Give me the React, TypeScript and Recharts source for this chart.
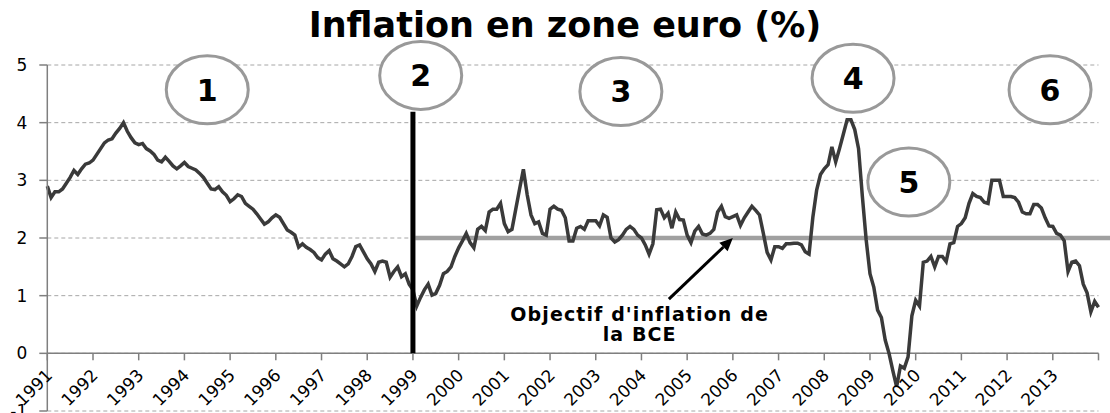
import React from "react";
import {
  ComposedChart,
  Line,
  Scatter,
  XAxis,
  YAxis,
  CartesianGrid,
  ReferenceLine,
  ReferenceDot,
} from "recharts";

// glissement annuel mensuel de l'IPCH, janvier -> décembre
const years = [
  1991, 1992, 1993, 1994, 1995, 1996, 1997, 1998, 1999, 2000, 2001, 2002,
  2003, 2004, 2005, 2006, 2007, 2008, 2009, 2010, 2011, 2012, 2013,
];
const m1991 = [2.9, 2.7, 2.8, 2.8, 2.85, 2.95, 3.05, 3.17, 3.1, 3.2, 3.28, 3.3];
const m1992 = [3.35, 3.45, 3.55, 3.65, 3.7, 3.72, 3.82, 3.9, 4.0, 3.85, 3.74, 3.65];
const m1993 = [3.62, 3.64, 3.55, 3.51, 3.45, 3.35, 3.32, 3.4, 3.33, 3.25, 3.2, 3.25];
const m1994 = [3.31, 3.24, 3.21, 3.18, 3.12, 3.05, 2.95, 2.85, 2.84, 2.89, 2.8, 2.74];
const m1995 = [2.63, 2.68, 2.75, 2.72, 2.6, 2.55, 2.5, 2.42, 2.33, 2.24, 2.28, 2.35];
const m1996 = [2.4, 2.36, 2.25, 2.14, 2.1, 2.05, 1.84, 1.9, 1.84, 1.8, 1.75, 1.66];
const m1997 = [1.62, 1.72, 1.78, 1.64, 1.6, 1.55, 1.5, 1.55, 1.68, 1.85, 1.88, 1.76];
const m1998 = [1.64, 1.55, 1.42, 1.58, 1.6, 1.58, 1.32, 1.42, 1.5, 1.33, 1.38, 1.2];
const m1999 = [1.1, 0.82, 0.97, 1.1, 1.2, 1.01, 1.04, 1.18, 1.38, 1.42, 1.5, 1.68];
const m2000 = [1.83, 1.95, 2.08, 1.92, 1.83, 2.15, 2.2, 2.13, 2.45, 2.5, 2.5, 2.6];
const m2001 = [2.25, 2.11, 2.15, 2.5, 2.85, 3.19, 2.75, 2.4, 2.25, 2.28, 2.08, 2.05];
const m2002 = [2.5, 2.55, 2.5, 2.48, 2.35, 1.95, 1.95, 2.17, 2.2, 2.15, 2.3, 2.3];
const m2003 = [2.3, 2.21, 2.4, 2.36, 2.0, 1.93, 1.97, 2.05, 2.15, 2.2, 2.15, 2.05];
const m2004 = [2.0, 1.88, 1.72, 1.9, 2.49, 2.5, 2.35, 2.43, 2.17, 2.45, 2.32, 2.31];
const m2005 = [2.05, 1.92, 2.12, 2.2, 2.07, 2.05, 2.08, 2.15, 2.45, 2.55, 2.37, 2.34];
const m2006 = [2.37, 2.4, 2.22, 2.35, 2.45, 2.55, 2.48, 2.4, 2.08, 1.75, 1.62, 1.85];
const m2007 = [1.85, 1.82, 1.9, 1.9, 1.91, 1.91, 1.88, 1.76, 1.72, 2.36, 2.83, 3.1];
const m2008 = [3.2, 3.27, 3.58, 3.32, 3.55, 3.8, 4.05, 4.05, 3.88, 3.55, 2.72, 1.97];
const m2009 = [1.38, 1.15, 0.75, 0.62, 0.23, 0.0, -0.3, -0.58, -0.22, -0.26, -0.06, 0.65];
const m2010 = [0.92, 0.82, 1.58, 1.6, 1.68, 1.5, 1.68, 1.68, 1.59, 1.9, 1.92, 2.2];
const m2011 = [2.25, 2.35, 2.6, 2.77, 2.72, 2.7, 2.62, 2.6, 3.0, 3.0, 3.0, 2.72];
const m2012 = [2.72, 2.72, 2.7, 2.62, 2.45, 2.42, 2.42, 2.58, 2.58, 2.52, 2.35, 2.21];
const m2013 = [2.2, 2.08, 2.05, 1.95, 1.42, 1.58, 1.6, 1.52, 1.2, 1.05, 0.72, 0.9];
const jan2014 = 0.8;

const monthly = [
  m1991, m1992, m1993, m1994, m1995, m1996, m1997, m1998, m1999, m2000, m2001, m2002,
  m2003, m2004, m2005, m2006, m2007, m2008, m2009, m2010, m2011, m2012, m2013,
];

const yTicks = [-1, 0, 1, 2, 3, 4, 5];
const targetLevel = 2;
const euroStart = 1999;
const euroLineTop = 4.19;

// phases numérotées (centre des cercles, en coordonnées du graphique)
const phaseNames = ["1", "2", "3", "4", "5", "6"];
const phaseYears = [1994.5, 1999.17, 2003.55, 2008.63, 2009.85, 2012.94];
const phaseLevels = [4.57, 4.82, 4.54, 4.77, 2.97, 4.57];

const noteLines = ["Objectif d'inflation de", "la BCE"];
const noteAt = [2003.96, 0.56];
const arrowFrom = [2004.6, 0.94];
const arrowTo = [2006.0, 2.0];

const data = years.flatMap((yr, i) =>
  monthly[i].map((v, m) => ({ t: yr + m / 12, v }))
);
data.push({ t: 2014, v: jan2014 });

const yearTicks = [...years, 2014].map((yr) => ({
  t: yr,
  v: 0,
  label: yr < 2014 ? String(yr) : "",
}));

const phases = phaseNames.map((name, i) => ({
  t: phaseYears[i],
  v: phaseLevels[i],
  name,
}));

const FONT = "'DejaVu Sans', Verdana, sans-serif";

const YearTick = (props: any) => {
  const { cx, cy, payload } = props;
  const ax = cx + 6;
  const ay = cy + 23;
  return (
    <g>
      <line x1={cx} y1={cy} x2={cx} y2={cy + 7} stroke="#7f7f7f" strokeWidth={1.5} />
      {payload.label && (
        <text
          x={ax}
          y={ay}
          transform={`rotate(-45 ${ax} ${ay})`}
          textAnchor="end"
          fontSize={17}
          fill="#000"
          fontFamily={FONT}
        >
          {payload.label}
        </text>
      )}
    </g>
  );
};

const PhaseBubble = (props: any) => {
  const { cx, cy, payload } = props;
  return (
    <g>
      <ellipse cx={cx} cy={cy} rx={41} ry={34} fill="#fff" stroke="#999" strokeWidth={3} />
      <text
        x={cx}
        y={cy}
        dy="0.36em"
        textAnchor="middle"
        fontSize={30}
        fontWeight="bold"
        fill="#000"
        fontFamily={FONT}
      >
        {payload.name}
      </text>
    </g>
  );
};

const Arrow = (props: any) => {
  const { x1, y1, x2, y2 } = props;
  const a = Math.atan2(y2 - y1, x2 - x1);
  const len = 13;
  const w = 6;
  const bx = x2 - len * Math.cos(a);
  const by = y2 - len * Math.sin(a);
  const px = -Math.sin(a) * w;
  const py = Math.cos(a) * w;
  return (
    <g>
      <line x1={x1} y1={y1} x2={bx} y2={by} stroke="#000" strokeWidth={3} />
      <polygon
        points={`${x2},${y2} ${bx + px},${by + py} ${bx - px},${by - py}`}
        fill="#000"
      />
    </g>
  );
};

const Note = (props: any) => {
  const { cx, cy } = props;
  return (
    <g>
      {noteLines.map((line, i) => (
        <text
          key={i}
          x={cx}
          y={cy + i * 20}
          textAnchor="middle"
          fontSize={19}
          fontWeight="bold"
          letterSpacing={1.1}
          fill="#000"
          fontFamily={FONT}
        >
          {line}
        </text>
      ))}
    </g>
  );
};

export default function App() {
  return (
    <div
      style={{
        position: "absolute",
        left: 0,
        top: 0,
        width: 1110,
        height: 413,
        background: "#fff",
        fontFamily: FONT,
      }}
    >
      <div
        style={{
          position: "absolute",
          left: 0,
          top: 5,
          width: 1130,
          textAlign: "center",
          fontSize: 35,
          lineHeight: "40px",
          fontWeight: "bold",
          color: "#000",
        }}
      >
        Inflation en zone euro (%)
      </div>
      <ComposedChart
        width={1110}
        height={413}
        data={data}
        margin={{ top: 65, right: 11.5, bottom: 2, left: 0 }}
      >
        <CartesianGrid
          vertical={false}
          stroke="#a6a6a6"
          strokeDasharray="4 3"
        />
        <XAxis dataKey="t" type="number" domain={[1991, 2014]} hide />
        <YAxis
          type="number"
          domain={[-1, 5]}
          ticks={yTicks}
          interval={0}
          width={47.3}
          tickSize={8}
          tickMargin={12}
          axisLine={{ stroke: "#7f7f7f", strokeWidth: 1.5 }}
          tickLine={{ stroke: "#7f7f7f", strokeWidth: 1.5 }}
          tick={{ fill: "#000", fontSize: 17, fontFamily: FONT }}
        />
        <ReferenceLine y={0} stroke="#7f7f7f" strokeWidth={1.5} />
        <ReferenceLine
          segment={[
            { x: euroStart + 0.05, y: targetLevel },
            { x: 2014.3, y: targetLevel },
          ]}
          stroke="#a0a0a0"
          strokeWidth={4.5}
          ifOverflow="visible"
        />
        <Line
          dataKey="v"
          type="linear"
          stroke="#3a3a3a"
          strokeWidth={3.5}
          dot={false}
          activeDot={false}
          isAnimationActive={false}
        />
        <ReferenceLine
          segment={[
            { x: euroStart, y: 0 },
            { x: euroStart, y: euroLineTop },
          ]}
          stroke="#000"
          strokeWidth={5}
        />
        <Scatter
          data={yearTicks}
          dataKey="v"
          shape={YearTick}
          isAnimationActive={false}
        />
        <Scatter
          data={phases}
          dataKey="v"
          shape={PhaseBubble}
          isAnimationActive={false}
        />
        <ReferenceLine
          segment={[
            { x: arrowFrom[0], y: arrowFrom[1] },
            { x: arrowTo[0], y: arrowTo[1] },
          ]}
          shape={Arrow}
          ifOverflow="visible"
        />
        <ReferenceDot
          x={noteAt[0]}
          y={noteAt[1]}
          r={0}
          shape={Note}
          ifOverflow="visible"
        />
      </ComposedChart>
    </div>
  );
}
